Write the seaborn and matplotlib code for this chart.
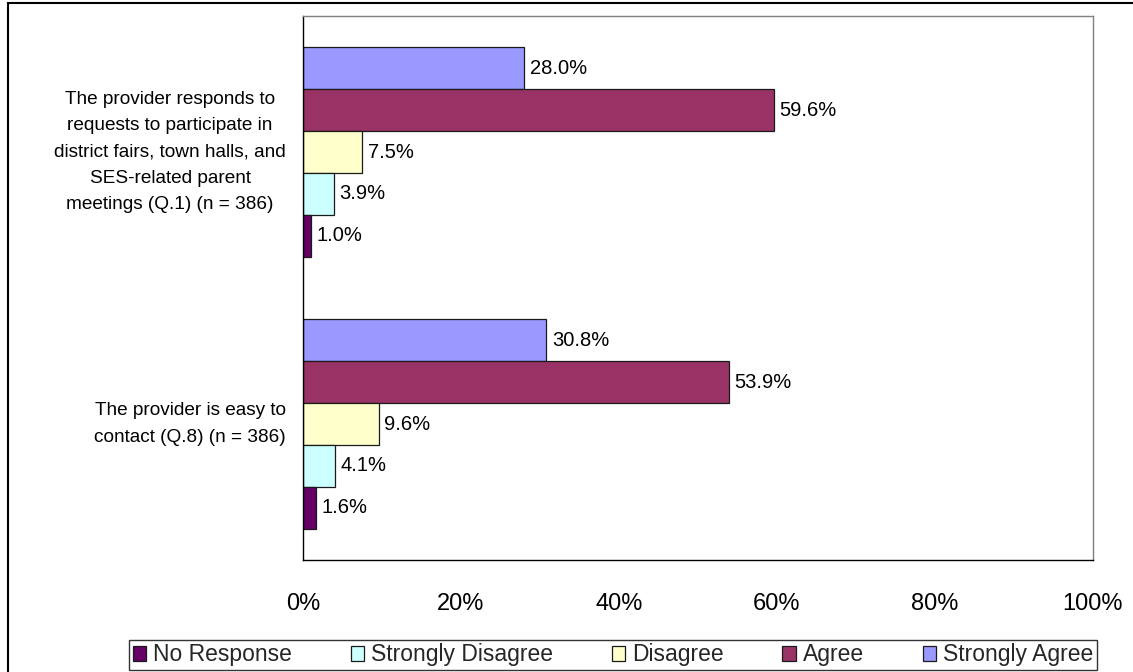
import matplotlib
matplotlib.use("Agg")
import matplotlib.pyplot as plt
from matplotlib.patches import Rectangle, Patch
from matplotlib.ticker import FuncFormatter
import matplotlib.transforms as mtransforms
import seaborn as sns
import pandas as pd

questions = [
    "The provider responds to\nrequests to participate in\ndistrict fairs, town halls, and\nSES-related parent\nmeetings (Q.1) (n = 386)",
    "The provider is easy to\ncontact (Q.8) (n = 386)",
]
responses = ["Strongly Agree", "Agree", "Disagree", "Strongly Disagree", "No Response"]
strongly_agree = [28.0, 30.8]
agree = [59.6, 53.9]
disagree = [7.5, 9.6]
strongly_disagree = [3.9, 4.1]
no_response = [1.0, 1.6]
legend_order = ["No Response", "Strongly Disagree", "Disagree", "Agree", "Strongly Agree"]
colors = {
    "Strongly Agree": "#9999FF",
    "Agree": "#993366",
    "Disagree": "#FFFFCC",
    "Strongly Disagree": "#CCFFFF",
    "No Response": "#660066",
}

series = {
    "Strongly Agree": strongly_agree,
    "Agree": agree,
    "Disagree": disagree,
    "Strongly Disagree": strongly_disagree,
    "No Response": no_response,
}
rows = []
for r in responses:
    for q, v in zip(questions, series[r]):
        rows.append({"question": q, "response": r, "value": v})
df = pd.DataFrame(rows)

sns.set_theme(style="white")
plt.rcParams["font.family"] = ["Liberation Sans", "DejaVu Sans"]

fig = plt.figure(figsize=(11.33, 6.72), dpi=100)
ax = fig.add_axes([303 / 1133, 1 - 560 / 672, (1093 - 303) / 1133, (560 - 16) / 672])

sns.barplot(data=df, y="question", x="value", hue="response", hue_order=responses,
            order=questions, palette=colors, orient="h", width=0.77, saturation=1,
            edgecolor="#1a1a1a", linewidth=0.9, ax=ax, legend=False, errorbar=None)

for cont in ax.containers:
    vals = [b.get_width() for b in cont]
    ax.bar_label(cont, labels=[f"{v:.1f}%" for v in vals], padding=4, fontsize=14.5, color="black")

ax.set_xlim(0, 100)
ax.set_ylim(1.5, -0.5)
ax.set_xticks([0, 20, 40, 60, 80, 100])
ax.xaxis.set_major_formatter(FuncFormatter(lambda v, p: f"{int(v)}%"))
ax.tick_params(axis="x", length=0, pad=24, labelsize=17, colors="black")
ax.set_yticks(range(len(questions)))
ax.set_yticklabels([])
ax.tick_params(axis="y", length=0)
trans = mtransforms.blended_transform_factory(ax.transAxes, ax.transData)
for i, q in enumerate(questions):
    ax.text(-17 / 790, i, q, transform=trans, ha="right", va="center",
            multialignment="center", linespacing=1.7, fontsize=13.7, color="black")
ax.set_xlabel("")
ax.set_ylabel("")
ax.grid(False)

for s in ["left", "bottom"]:
    ax.spines[s].set_color("black")
    ax.spines[s].set_linewidth(1.0)
for s in ["top", "right"]:
    ax.spines[s].set_color("#808080")
    ax.spines[s].set_linewidth(1.0)

handles = [Patch(facecolor=colors[r], edgecolor="#1a1a1a", linewidth=0.9) for r in legend_order]
leg = fig.legend(handles, legend_order, loc="center", ncol=5,
                 bbox_to_anchor=(613 / 1133, 1 - 655 / 672), frameon=True, fancybox=False,
                 fontsize=16.5, handlelength=0.6, handleheight=0.6, handletextpad=0.3,
                 columnspacing=2.55, borderpad=0.15)
leg.get_frame().set_edgecolor("black")
leg.get_frame().set_linewidth(1.0)

fig.patches.append(Rectangle((8 / 1133, -0.05), 1.2, 1 - 3 / 672 + 0.05,
                             transform=fig.transFigure, fill=False,
                             edgecolor="black", linewidth=1.5, clip_on=False))

fig.savefig("out.png", dpi=100)
